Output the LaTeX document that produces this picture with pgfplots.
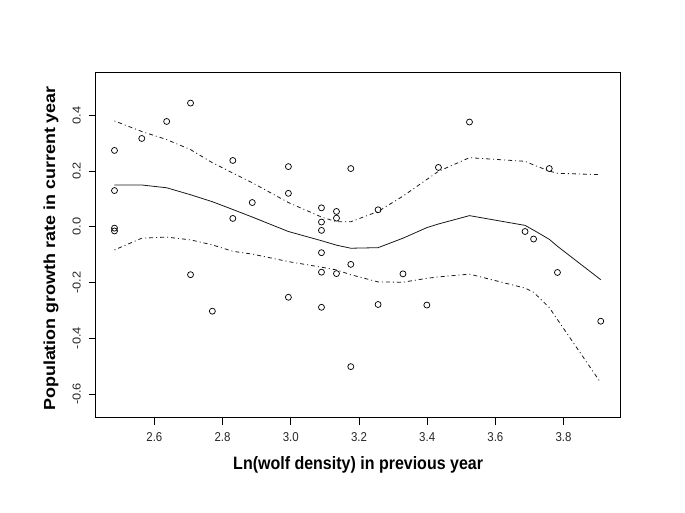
\documentclass[border=0pt]{standalone}
\usepackage{fontspec}
\setmainfont{Liberation Sans}
\usepackage{pgfplots}
\pgfplotsset{compat=1.18}
\begin{document}
\begin{tikzpicture}[x=1pt,y=1pt]
\useasboundingbox (0,0) rectangle (513.75,384.75);
\begin{axis}[
  at={(71.8pt,71.5pt)}, anchor=south west,
  scale only axis, width=393.6pt, height=259.0pt,
  xmin=2.428, xmax=3.967, ymin=-0.6852, ymax=0.5544,
  xtick={2.6,2.8,3.0,3.2,3.4,3.6,3.8},
  ytick={-0.6,-0.4,-0.2,0.0,0.2,0.4},
  xticklabels={2.6,2.8,3.0,3.2,3.4,3.6,3.8},
  yticklabels={-0.6,-0.4,-0.2,0.0,0.2,0.4},
  xtick pos=left, ytick pos=left,
  tick align=outside, major tick length=5.25pt,
  tick style={black, line width=0.6pt},
  axis line style={black, line width=0.75pt},
  /pgf/number format/assume math mode=true,
  ticklabel style={font=\fontsize{8.6pt}{9pt}\selectfont, text=black!85},
  xticklabel style={anchor=north, inner sep=0pt, yshift=-6pt, yscale=1.12},
  yticklabel style={xshift=-6pt, rotate=90, xscale=1.12, anchor=base, inner sep=0pt},
  xlabel={Ln(wolf density) in previous year},
  ylabel={Population growth rate in current year},
  label style={font=\fontsize{12pt}{14pt}\selectfont\bfseries},
  xlabel style={at={(axis description cs:0.5,-0.15)}, anchor=base, yscale=1.12},
  ylabel style={at={(axis description cs:-0.0776,0.49)}, rotate=0, xscale=1.12, anchor=base},
  clip=false,
]
\addplot[only marks, mark=o, mark size=2.25pt, mark options={line width=0.55pt, black}] coordinates {
(2.483,0.274) (2.483,0.130) (2.483,-0.005) (2.483,-0.015)
(2.563,0.317) (2.636,0.378) (2.706,0.444) (2.706,-0.172)
(2.770,-0.303) (2.830,0.238) (2.830,0.030) (2.887,0.087)
(2.993,0.216) (2.993,0.120) (2.993,-0.253)
(3.090,0.068) (3.090,0.017) (3.090,-0.013) (3.090,-0.093) (3.090,-0.163) (3.090,-0.289)
(3.134,0.055) (3.134,0.031) (3.134,-0.168)
(3.176,0.209) (3.176,-0.135) (3.176,-0.502)
(3.256,0.061) (3.256,-0.279) (3.329,-0.169) (3.399,-0.281)
(3.433,0.213) (3.524,0.376) (3.687,-0.017) (3.712,-0.044)
(3.758,0.209) (3.782,-0.164) (3.909,-0.339)
};
\addplot[black!90, line width=0.6pt] coordinates {
(2.483,0.150) (2.563,0.150) (2.636,0.140) (2.706,0.115) (2.770,0.090)
(2.830,0.062) (2.887,0.035) (2.993,-0.017) (3.090,-0.050) (3.134,-0.066)
(3.176,-0.077) (3.256,-0.075) (3.329,-0.041) (3.399,-0.003) (3.433,0.010)
(3.524,0.040) (3.687,0.005) (3.712,-0.012) (3.758,-0.045) (3.782,-0.070) (3.909,-0.190)
};
\addplot[black!90, line width=0.6pt, dash pattern=on 0.75pt off 2.25pt on 3pt off 2.25pt] coordinates {
(2.483,0.380) (2.563,0.342) (2.636,0.313) (2.706,0.277) (2.770,0.230)
(2.830,0.193) (2.887,0.158) (2.993,0.087) (3.090,0.035) (3.134,0.018)
(3.176,0.018) (3.256,0.055) (3.329,0.110) (3.399,0.170) (3.433,0.199)
(3.524,0.248) (3.687,0.235) (3.712,0.222) (3.758,0.200) (3.782,0.192) (3.909,0.187)
};
\addplot[black!90, line width=0.6pt, dash pattern=on 0.75pt off 2.25pt on 3pt off 2.25pt] coordinates {
(2.483,-0.083) (2.563,-0.041) (2.636,-0.037) (2.706,-0.047) (2.770,-0.065)
(2.830,-0.088) (2.887,-0.098) (2.993,-0.125) (3.090,-0.145) (3.134,-0.155)
(3.176,-0.172) (3.256,-0.198) (3.329,-0.199) (3.399,-0.185) (3.433,-0.180)
(3.524,-0.170) (3.687,-0.220) (3.712,-0.235) (3.758,-0.290) (3.782,-0.333) (3.909,-0.560)
};
\end{axis}
\end{tikzpicture}
\end{document}
